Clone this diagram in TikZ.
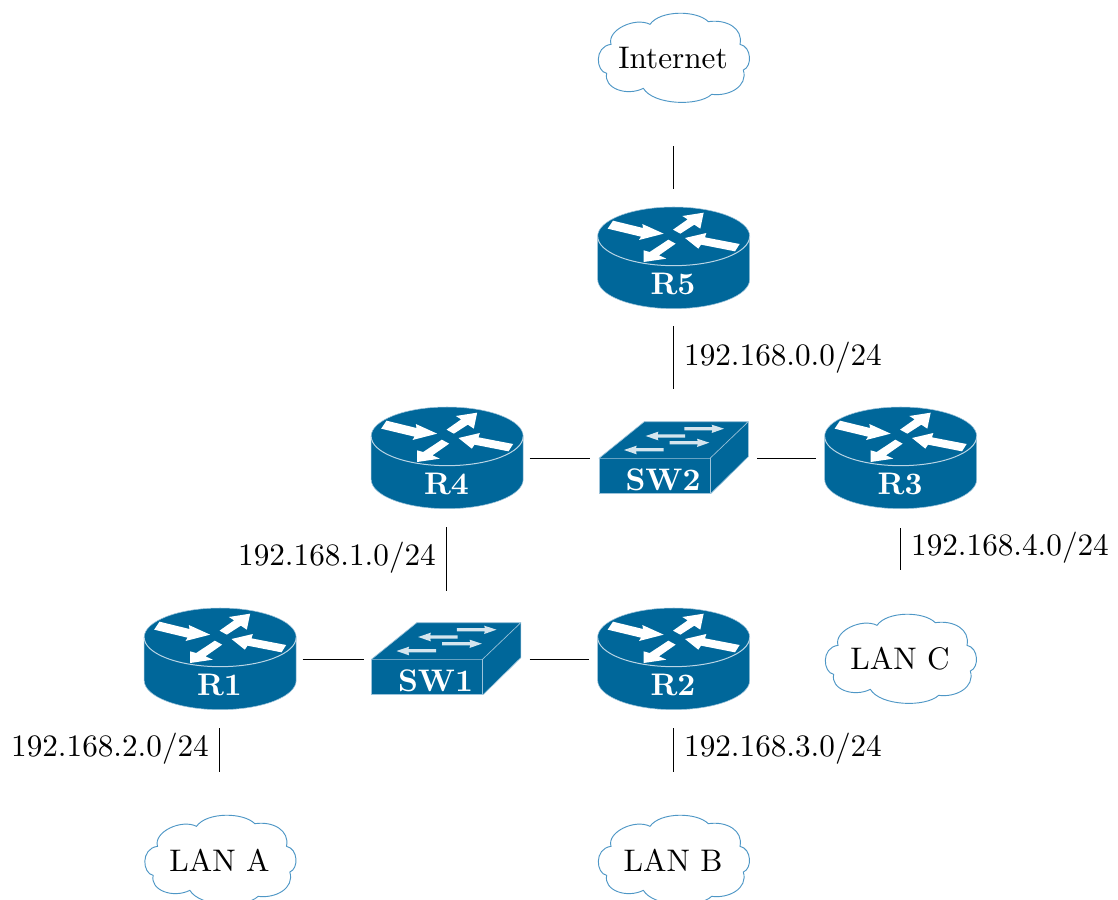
\documentclass[tikz,border=0pt]{standalone}
\definecolor{netblue}{HTML}{00679A}
\definecolor{edgeblue}{HTML}{9CC3DA}
\definecolor{cloudblue}{HTML}{4E97C6}
\definecolor{swarrow}{HTML}{D5E5EE}
\tikzset{
  txt/.style={scale=2.34,inner sep=0pt,text=black},
  lbl/.style={scale=2.34,inner sep=0pt,text=white,font=\bfseries},
  link/.style={draw=black,line width=.75pt},
  hit/.style={rectangle,inner sep=0pt,outer sep=0pt,draw=none},
  pics/router/.style={code={
    \node[hit,minimum width=114pt,minimum height=76.5pt] (-box) at (0,0) {};
    \begin{scope}[x=.25pt,y=-.25pt,shift={(-278,-188)}]
      \path[fill=netblue,draw=edgeblue,line width=.4pt]
        (52,123) -- (52,252) .. controls (52,300.6) and (154,340) .. (280,340)
        .. controls (406,340) and (508,300.6) .. (508,252) -- (508,123)
        .. controls (508,74.4) and (406,35) .. (280,35)
        .. controls (154,35) and (52,74.4) .. (52,123) -- cycle;
      \draw[edgeblue!70!white,line width=.75pt]
        (52,123) .. controls (52,171.6) and (154,211) .. (280,211)
        .. controls (406,211) and (508,171.6) .. (508,123);
      \fill[white] (82,100) -- (98,76) -- (188,98) -- (186,86) -- (250,115) -- (176,134) -- (182,124) -- cycle;
      \fill[white] (370,52) -- (360,100) -- (342,88) -- (300,115) -- (278,103) -- (322,72) -- (306,62) -- cycle;
      \fill[white] (314,128) -- (378,113) -- (374,126) -- (478,146) -- (464,168) -- (362,148) -- (354,160) -- cycle;
      \fill[white] (190,200) -- (190,165) -- (208,170) -- (264,133) -- (286,145) -- (236,180) -- (258,190) -- cycle;
    \end{scope}
    \node[lbl] at (0,26) {#1};
  }},
  pics/switch/.style={code={
    \node[hit,minimum width=111pt,minimum height=55.5pt] (-box) at (0,0) {};
    \begin{scope}[x=.25pt,y=-.25pt,shift={(-267,-144)}]
      \path[fill=netblue] (42,145) -- (178,35) -- (490,35) -- (490,140) -- (378,250) -- (42,250) -- cycle;
      \draw[edgeblue,line width=.5pt,line join=round] (42,145) -- (178,35) -- (490,35) -- (375,145) -- cycle;
      \draw[edgeblue,line width=.75pt] (375,145) -- (375,250) -- (42,250) -- (42,145);
      \draw[edgeblue,line width=.5pt] (490,35) -- (490,140) -- (378,250);
      \fill[swarrow] (298,51) -- (382,51) -- (380,44) -- (417,56) -- (380,69) -- (382,61) -- (298,61) -- cycle;
      \fill[swarrow] (300,73) -- (218,73) -- (220,65) -- (182,78) -- (220,91) -- (218,83) -- (300,83) -- cycle;
      \fill[swarrow] (254,93) -- (338,93) -- (336,86) -- (373,98) -- (336,111) -- (338,103) -- (254,103) -- cycle;
      \fill[swarrow] (236,114) -- (153,114) -- (155,107) -- (117,120) -- (155,133) -- (153,124) -- (236,124) -- cycle;
    \end{scope}
    \node[lbl] at (-11,22) {#1};
  }},
  pics/lancloud/.style={code={
    \node[hit,minimum width=114pt,minimum height=69pt] (-box) at (0,0) {};
    \begin{scope}[x=.25pt,y=-.25pt,shift={(-264,-159)}]
      \draw[cloudblue,line width=.7pt,fill=white]
        (65,205) .. controls (33,200) and (26,125) .. (78,118)
        .. controls (65,75) and (150,35) .. (195,58)
        .. controls (225,15) and (335,15) .. (370,50)
        .. controls (425,42) and (475,70) .. (465,118)
        .. controls (500,125) and (502,185) .. (475,195)
        .. controls (490,245) and (430,275) .. (380,268)
        .. controls (340,305) and (205,300) .. (175,250)
        .. controls (125,275) and (55,250) .. (65,205) -- cycle;
    \end{scope}
    \node[txt] at (0,0) {#1};
  }}
}
\begin{document}
\begin{tikzpicture}[x=.75pt,y=-.75pt]
\useasboundingbox (0,0) rectangle (1118,900);
\clip (0,0) rectangle (1118,900);
\fill[white] (0,0) rectangle (1118,900);
\pic (inet) at (673,58) {lancloud=Internet};
\pic (lana) at (219.5,860) {lancloud=LAN A};
\pic (lanb) at (673,860) {lancloud=LAN B};
\pic (lanc) at (900,659) {lancloud=LAN C};
\pic (r5) at (673,258) {router=R5};
\pic (r4) at (446.5,458) {router=R4};
\pic (r3) at (900,458) {router=R3};
\pic (r1) at (219.5,659) {router=R1};
\pic (r2) at (673,659) {router=R2};
\pic (sw2) at (674,458) {switch=SW2};
\pic (sw1) at (446.5,659) {switch=SW1};
\coordinate (sw2top) at (673,421);
\draw[link,shorten <=31.5pt,shorten >=13.5pt] (inet-box) -- (r5-box);
\draw[link,shorten <=12.75pt,shorten >=24pt] (r5-box) -- (sw2top);
\draw[link,shorten <=5.25pt,shorten >=7.5pt] (r4-box) -- (sw2-box);
\draw[link,shorten <=6.75pt,shorten >=6pt] (sw2-box) -- (r3-box);
\draw[link,shorten <=13.5pt,shorten >=23.25pt] (r4-box) -- (sw1-box);
\draw[link,shorten <=14.25pt,shorten >=32.25pt] (r3-box) -- (lanc-box);
\draw[link,shorten <=5.25pt,shorten >=6.75pt] (r1-box) -- (sw1-box);
\draw[link,shorten <=6.75pt,shorten >=6pt] (sw1-box) -- (r2-box);
\draw[link,shorten <=13.5pt,shorten >=31.5pt] (r1-box) -- (lana-box);
\draw[link,shorten <=13.5pt,shorten >=31.5pt] (r2-box) -- (lanb-box);
\node[txt] (n0) at (783,358) {192.168.0.0/24};
\node[txt] (n1) at (337,558) {192.168.1.0/24};
\node[txt] (n4) at (1010,548) {192.168.4.0/24};
\node[txt] (n3) at (783,749) {192.168.3.0/24};
\node[txt] (n2) at (110,749) {192.168.2.0/24};
\end{tikzpicture}
\end{document}
